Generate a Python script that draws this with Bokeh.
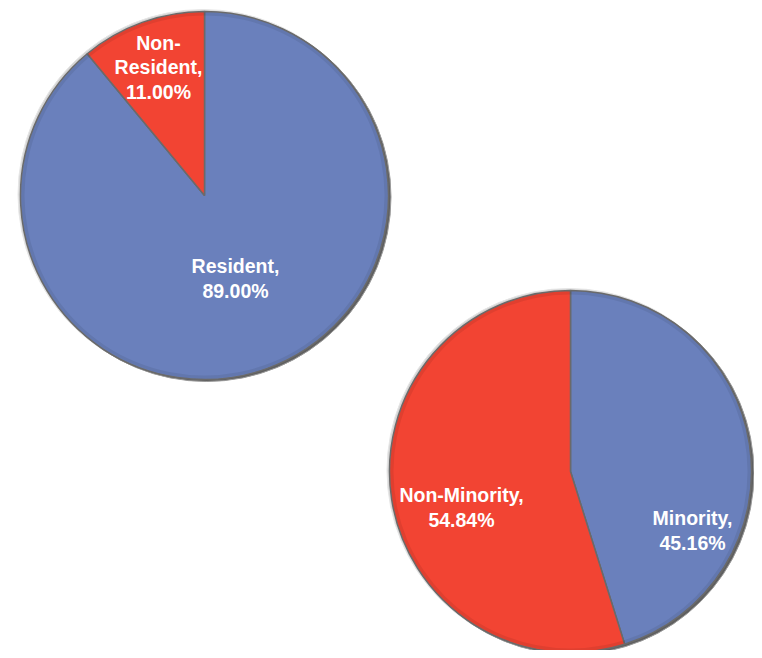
import math
from bokeh.plotting import figure
from bokeh.models import Range1d, ColumnDataSource
from bokeh.core.properties import value
from bokeh.embed import file_html
from bokeh.resources import INLINE

# ---- data ----
pie1_labels = ["Resident", "Non-Resident"]
pie1_values = [89.00, 11.00]
pie2_labels = ["Minority", "Non-Minority"]
pie2_values = [45.16, 54.84]
slice_colors = ["#6a80bc", "#f24433"]

# ---- layout (screen pixels) ----
W, H = 754, 650
OFF = 0
def px(x):
    return x
def py(y):
    return 658 - y

pies = [
    dict(labels=pie1_labels, values=pie1_values, cx=204, cy=195, r=184,
         label_pos=[(235, 278), (158, 67)]),
    dict(labels=pie2_labels, values=pie2_values, cx=570, cy=471, r=181,
         label_pos=[(692, 530), (461, 507)]),
]

p = figure(width=W, height=H, output_backend="svg", toolbar_location=None,
           x_range=Range1d(OFF, OFF + W), y_range=Range1d(py(OFF + H), py(OFF)),
           min_border=0)
p.axis.visible = False
p.grid.visible = False
p.outline_line_color = None
p.background_fill_color = "white"
p.border_fill_color = "white"

for pie in pies:
    vals = pie["values"]
    total = sum(vals)
    starts, ends = [], []
    a = math.pi / 2
    for v in vals:
        starts.append(a)
        a = a - v / total * 2 * math.pi
        ends.append(a)
    cx, cy, r = px(pie["cx"]), py(pie["cy"]), pie["r"]
    # bevel rim: light on upper-left, dark shadow on lower-right
    p.circle(x=[cx - 1.5], y=[cy + 1], radius=r + 1, fill_color="#d4d4d4",
             line_color="#e6e6e6", line_width=1)
    p.circle(x=[cx + 2], y=[cy - 1.5], radius=r + 0.5, fill_color="#5f5f5f",
             line_color="#9a9a9a", line_width=1)
    src = ColumnDataSource(dict(
        x=[cx] * len(vals), y=[cy] * len(vals),
        start=starts, end=ends, color=slice_colors[:len(vals)],
        label=pie["labels"], value=vals))
    p.wedge(x="x", y="y", radius=r, start_angle="start", end_angle="end",
            direction="clock", fill_color="color", line_color="#6a6a6a",
            line_width=1.5, source=src)
    # subtle inner darkening near the rim
    p.annulus(x=[cx], y=[cy], inner_radius=r - 4, outer_radius=r - 0.75,
              fill_color="black", fill_alpha=0.07, line_color=None)
    tsrc = ColumnDataSource(dict(
        x=[px(a) for a, b in pie["label_pos"]],
        y=[py(b) for a, b in pie["label_pos"]],
        text=[f"{l},\n{v:.2f}%".replace("Non-Resident,", "Non-\nResident,")
              for l, v in zip(pie["labels"], vals)]))
    p.text(x="x", y="y", text="text", source=tsrc, text_color="white",
           text_font=value("Liberation Sans"), text_font_style="bold",
           text_font_size="19.5px", text_align="center",
           text_baseline="middle", text_line_height=1.12)

open("out.html", "w").write(file_html(p, INLINE))
